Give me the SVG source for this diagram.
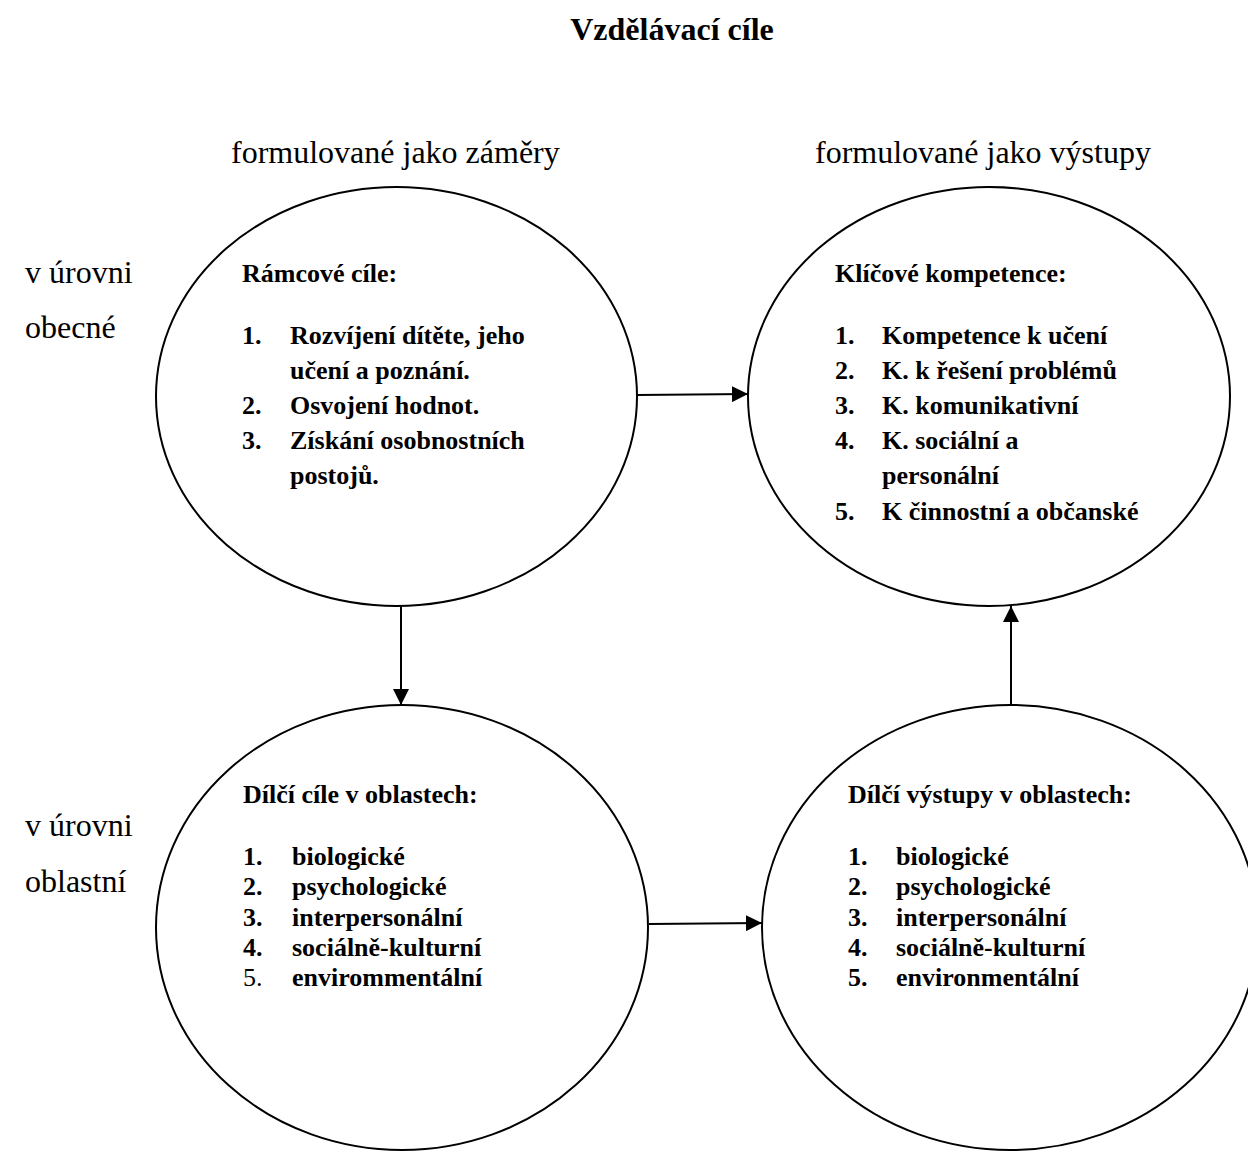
<svg xmlns="http://www.w3.org/2000/svg" width="1248" height="1151" viewBox="0 0 1248 1151">
<style>
  .bg{fill:#fff}
  .node{fill:none;stroke:#000;stroke-width:2}
  .t{font-family:"Liberation Serif","Times New Roman",serif;fill:#000}
  .title{font-size:32px;font-weight:bold}
  .lbl{font-size:32px}
  .b{font-size:26px;font-weight:bold}
  .r{font-size:26px;font-weight:normal}
  .edge{stroke:#000;stroke-width:2;fill:none;marker-end:url(#arr)}
</style>
<defs>
  <marker id="arr" viewBox="0 0 10 10" refX="10" refY="5" markerWidth="8" markerHeight="8" markerUnits="strokeWidth" orient="auto">
    <path d="M0,0 L10,5 L0,10 Z" fill="#000"/>
  </marker>
</defs>
<rect class="bg" x="0" y="0" width="1248" height="1151"/>

<g id="labels">
  <text class="t title" x="672" y="40" text-anchor="middle">Vzdělávací cíle</text>
  <text class="t lbl" x="231" y="163">formulované jako záměry</text>
  <text class="t lbl" x="815" y="163">formulované jako výstupy</text>
  <text class="t lbl" x="25" y="283">v úrovni</text>
  <text class="t lbl" x="25" y="338">obecné</text>
  <text class="t lbl" x="25" y="836">v úrovni</text>
  <text class="t lbl" x="25" y="892">oblastní</text>
</g>

<g id="ramcove-cile">
  <ellipse class="node" cx="396.5" cy="396.5" rx="240.5" ry="209.5"/>
  <text class="t b" x="242" y="282">Rámcové cíle:</text>
  <text class="t b" x="242" y="344">1.</text>
  <text class="t b" x="290" y="344">Rozvíjení dítěte, jeho</text>
  <text class="t b" x="290" y="379">učení a poznání.</text>
  <text class="t b" x="242" y="414">2.</text>
  <text class="t b" x="290" y="414">Osvojení hodnot.</text>
  <text class="t b" x="242" y="449">3.</text>
  <text class="t b" x="290" y="449">Získání osobnostních</text>
  <text class="t b" x="290" y="484">postojů.</text>
</g>

<g id="klicove-kompetence">
  <ellipse class="node" cx="989" cy="396.5" rx="241" ry="209.5"/>
  <text class="t b" x="835" y="282">Klíčové kompetence:</text>
  <text class="t b" x="835" y="344">1.</text>
  <text class="t b" x="882" y="344">Kompetence k učení</text>
  <text class="t b" x="835" y="379">2.</text>
  <text class="t b" x="882" y="379">K. k řešení problémů</text>
  <text class="t b" x="835" y="414">3.</text>
  <text class="t b" x="882" y="414">K. komunikativní</text>
  <text class="t b" x="835" y="449">4.</text>
  <text class="t b" x="882" y="449">K. sociální a</text>
  <text class="t b" x="882" y="484">personální</text>
  <text class="t b" x="835" y="520">5.</text>
  <text class="t b" x="882" y="520">K činnostní a občanské</text>
</g>

<g id="dilci-cile">
  <ellipse class="node" cx="402" cy="927.5" rx="246" ry="222.5"/>
  <text class="t b" x="243" y="803">Dílčí cíle v oblastech:</text>
  <text class="t b" x="243" y="865">1.</text>
  <text class="t b" x="292" y="865">biologické</text>
  <text class="t b" x="243" y="895">2.</text>
  <text class="t b" x="292" y="895">psychologické</text>
  <text class="t b" x="243" y="926">3.</text>
  <text class="t b" x="292" y="926">interpersonální</text>
  <text class="t b" x="243" y="956">4.</text>
  <text class="t b" x="292" y="956">sociálně-kulturní</text>
  <text class="t r" x="243" y="986">5.</text>
  <text class="t b" x="292" y="986">envirommentální</text>
</g>

<g id="dilci-vystupy">
  <ellipse class="node" cx="1010" cy="927.5" rx="248" ry="222.5"/>
  <text class="t b" x="848" y="803">Dílčí výstupy v oblastech:</text>
  <text class="t b" x="848" y="865">1.</text>
  <text class="t b" x="896" y="865">biologické</text>
  <text class="t b" x="848" y="895">2.</text>
  <text class="t b" x="896" y="895">psychologické</text>
  <text class="t b" x="848" y="926">3.</text>
  <text class="t b" x="896" y="926">interpersonální</text>
  <text class="t b" x="848" y="956">4.</text>
  <text class="t b" x="896" y="956">sociálně-kulturní</text>
  <text class="t b" x="848" y="986">5.</text>
  <text class="t b" x="896" y="986">environmentální</text>
</g>

<g id="connectors">
  <line class="edge" x1="637" y1="395" x2="748" y2="394"/>
  <line class="edge" x1="401" y1="606" x2="401" y2="705"/>
  <line class="edge" x1="649" y1="924" x2="762" y2="923"/>
  <line class="edge" x1="1011" y1="705" x2="1011" y2="606"/>
</g>
</svg>
